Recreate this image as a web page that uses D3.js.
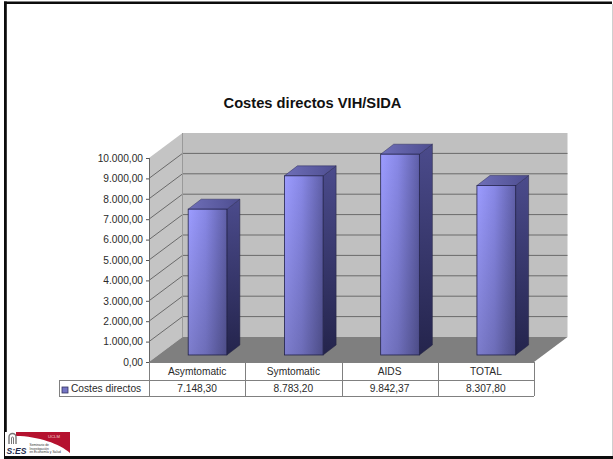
<!DOCTYPE html>
<html>
<head>
<meta charset="utf-8">
<style>
html,body{margin:0;padding:0;background:#fff}
svg{display:block}
text{font-family:"Liberation Sans",Arial,sans-serif;fill:#2a2a2a}
</style>
<script src="https://cdn.jsdelivr.net/npm/d3@7"></script>
</head>
<body>
<svg id="chart" width="613" height="459"></svg>
<script>
const categories = ["Asymtomatic", "Symtomatic", "AIDS", "TOTAL"];
const costValues = [7148.30, 8783.20, 9842.37, 8307.80];
const yTicks = [0, 1000, 2000, 3000, 4000, 5000, 6000, 7000, 8000, 9000, 10000];
const titleText = "Costes directos VIH/SIDA";
const seriesName = "Costes directos";

const svg = d3.select("#chart");
const W = 613, H = 459;
const numFmt = d3.formatLocale({decimal: ",", thousands: ".", grouping: [3], currency: ["", ""]}).format(",.2f");

// Plot box: front face of the 3D frame and the offset of its back wall
const plotLeft = 149, plotRight = 534, plotBase = 362, plotTop = 158;
const depthX = 33.5, depthY = 25;
const x = d3.scaleBand().domain(categories).range([plotLeft, plotRight]);
const y = d3.scaleLinear().domain([0, 10000]).range([plotBase, plotTop]);
const pts = a => a.map(p => p.join(",")).join(" ");

// Gradients
const defs = svg.append("defs");
function grad(id, x2, y2, stops) {
  const g = defs.append("linearGradient").attr("id", id)
    .attr("x1", 0).attr("y1", 0).attr("x2", x2).attr("y2", y2);
  stops.forEach(([o, c]) => g.append("stop").attr("offset", o).attr("stop-color", c));
}
grad("front", 1, 0, [[0, "#9c9cff"], [0.45, "#8888e6"], [1, "#5f5fa8"]]);
grad("side", 0, 1, [[0, "#4b4b8c"], [1, "#24244c"]]);
grad("cap", 1, 0, [[0, "#6f6fb8"], [1, "#4d4d90"]]);
const shade = defs.append("linearGradient").attr("id", "shade")
  .attr("x1", 0).attr("y1", 0).attr("x2", 0).attr("y2", 1);
shade.append("stop").attr("offset", 0).attr("stop-color", "#000").attr("stop-opacity", 0);
shade.append("stop").attr("offset", 1).attr("stop-color", "#000").attr("stop-opacity", 0.2);

// Slide frame: heavy top, left and bottom rules, hairline on the right
svg.append("path").attr("fill", "none").attr("stroke", "#0c0c0c").attr("stroke-width", 2.6)
  .attr("d", `M4,2.7H612`);
svg.append("path").attr("fill", "none").attr("stroke", "#0c0c0c").attr("stroke-width", 2.8)
  .attr("d", `M5.4,1.5V432`);
svg.append("path").attr("fill", "none").attr("stroke", "#0c0c0c").attr("stroke-width", 1)
  .attr("d", `M4.5,432V457`);
svg.append("path").attr("fill", "none").attr("stroke", "#0c0c0c").attr("stroke-width", 3)
  .attr("d", `M4,457.5H${W}`);
svg.append("path").attr("fill", "none").attr("stroke", "#cfcfcf").attr("stroke-width", 1)
  .attr("d", `M612.5,4V456`);

// Title
svg.append("text").attr("x", 312.5).attr("y", 108).attr("text-anchor", "middle")
  .attr("font-size", 14.7).attr("font-weight", "bold").style("fill", "#111").text(titleText);

// Walls and floor
svg.append("polygon").attr("fill", "#c0c0c0").attr("points",
  pts([[plotLeft + depthX, plotTop - depthY], [plotRight + depthX, plotTop - depthY], [plotRight + depthX, plotBase - depthY], [plotLeft + depthX, plotBase - depthY]]));
svg.append("polygon").attr("fill", "#c4c4c4").attr("points",
  pts([[plotLeft, plotTop], [plotLeft + depthX, plotTop - depthY], [plotLeft + depthX, plotBase - depthY], [plotLeft, plotBase]]));
svg.append("polygon").attr("fill", "#7f7f7f").attr("points",
  pts([[plotLeft, plotBase], [plotRight, plotBase], [plotRight + depthX, plotBase - depthY], [plotLeft + depthX, plotBase - depthY]]));

// Gridlines along the side wall and the back wall (none at the zero level or the top edge)
svg.append("g").selectAll("polyline").data(yTicks.slice(1, -1)).join("polyline")
  .attr("fill", "none").attr("stroke", "#6a6a6a").attr("stroke-width", 1)
  .attr("points", d => pts([[plotLeft, y(d)], [plotLeft + depthX, y(d) - depthY], [plotRight + depthX, y(d) - depthY]]));
svg.append("path").attr("fill", "none").attr("stroke", "#9a9a9a")
  .attr("d", `M${plotLeft + depthX},${plotTop - depthY}V${plotBase - depthY}`);

// Bars as three-faced prisms set slightly into the floor, so both ends shift by the same inset
const barW = 38.7, barDX = 13, barDY = 10, inX = 10.4, inY = 7;
const bars = svg.append("g").selectAll("g").data(categories.map((c, i) => ({c, v: costValues[i]}))).join("g");
const bx = d => x(d.c) + (x.bandwidth() - barW) / 2 + inX;
const byBase = y(0) - inY;
const byTop = d => y(d.v) - inY;
bars.append("polygon").attr("fill", "url(#side)").attr("stroke", "#20203f").attr("stroke-width", 0.5)
  .attr("points", d => pts([[bx(d) + barW, byTop(d)], [bx(d) + barW + barDX, byTop(d) - barDY],
    [bx(d) + barW + barDX, byBase - barDY], [bx(d) + barW, byBase]]));
bars.append("polygon").attr("fill", "url(#cap)").attr("stroke", "#2c2c5c").attr("stroke-width", 0.5)
  .attr("points", d => pts([[bx(d), byTop(d)], [bx(d) + barW, byTop(d)],
    [bx(d) + barW + barDX, byTop(d) - barDY], [bx(d) + barDX, byTop(d) - barDY]]));
bars.append("rect").attr("x", bx).attr("y", byTop).attr("width", barW)
  .attr("height", d => byBase - byTop(d)).attr("fill", "url(#front)")
  .attr("stroke", "#24244e").attr("stroke-width", 0.8);
bars.append("rect").attr("x", bx).attr("y", byTop).attr("width", barW)
  .attr("height", d => byBase - byTop(d)).attr("fill", "url(#shade)");

// Value axis
const axis = svg.append("g").attr("transform", `translate(${plotLeft},0)`)
  .call(d3.axisLeft(y).tickValues(yTicks).tickFormat(numFmt).tickSize(3).tickPadding(3));
axis.select(".domain").attr("stroke", "#666").attr("d", `M0.5,${plotTop}V${plotBase}`);
axis.selectAll(".tick line").attr("stroke", "#555");
axis.selectAll(".tick text").attr("font-family", null).attr("font-size", 10.2).style("fill", "#2a2a2a");

// Data table below the plot
const rowMid = 380, rowEnd = 396, tableLeft = 59;
const borders = svg.append("g").attr("stroke", "#808080").attr("stroke-width", 1).attr("fill", "none");
borders.append("path").attr("d", `M${plotLeft},${plotBase + 0.5}H${plotRight}M${tableLeft},${rowMid + 0.5}H${plotRight}M${tableLeft},${rowEnd + 0.5}H${plotRight}M${tableLeft + 0.5},${rowMid}V${rowEnd}`);
borders.selectAll("line").data([...categories.map(c => x(c)), plotRight]).join("line")
  .attr("x1", d => Math.round(d) + 0.5).attr("x2", d => Math.round(d) + 0.5).attr("y1", plotBase).attr("y2", rowEnd);

const cx = c => x(c) + x.bandwidth() / 2;
svg.append("g").selectAll("text").data(categories).join("text")
  .attr("x", cx).attr("y", 375).attr("text-anchor", "middle").attr("font-size", 10.2).text(d => d);
svg.append("g").selectAll("text").data(categories).join("text")
  .attr("x", cx).attr("y", 392).attr("text-anchor", "middle").attr("font-size", 10.2)
  .text((d, i) => numFmt(costValues[i]));
svg.append("rect").attr("x", 62).attr("y", 387).attr("width", 6).attr("height", 6)
  .attr("fill", "#7474c4").attr("stroke", "#33335f").attr("stroke-width", 0.8);
svg.append("text").attr("x", 71).attr("y", 392).attr("font-size", 10.2).text(seriesName);

// Institutional logo in the lower-left corner
const logo = svg.append("g");
logo.append("path").attr("fill", "#b5122f")
  .attr("d", "M16,432H70V453C60,444 38,436 16,436Z");
logo.append("text").attr("x", 48).attr("y", 437.5).attr("font-size", 4.2).style("fill", "#f3d0d0").text("UCLM");
logo.append("path").attr("fill", "none").attr("stroke", "#777").attr("stroke-width", 1.4)
  .attr("d", "M9,444V437a3.5,3.5 0 0 1 7,0V444");
logo.append("path").attr("fill", "none").attr("stroke", "#777").attr("stroke-width", 1)
  .attr("d", "M11.5,444V438a1,1 0 0 1 2,0V444");
logo.append("text").attr("x", 6.5).attr("y", 454).attr("font-size", 8.6).attr("font-weight", "bold")
  .attr("font-style", "italic").style("fill", "#1c2a4c").text("S:ES");
logo.selectAll(".l").data(["Seminario de", "Investigación", "en Economía y Salud"]).join("text").attr("class", "l")
  .attr("x", 29.5).attr("y", (d, i) => 446 + i * 3.7).attr("font-size", 3.3).style("fill", "#333").text(d => d);
</script>
</body>
</html>
